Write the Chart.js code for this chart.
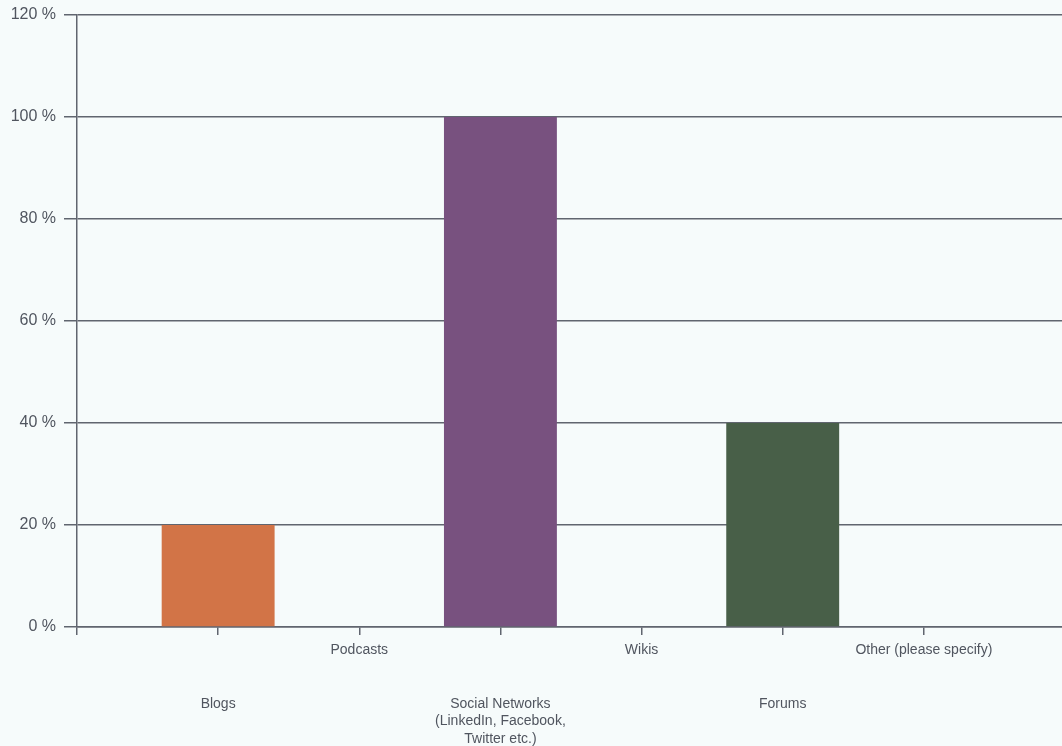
<!DOCTYPE html>
<html>
<head>
<meta charset="utf-8">
<script src="https://cdn.jsdelivr.net/npm/chart.js@4.4.0/dist/chart.umd.min.js"></script>
<style>
html, body { margin: 0; padding: 0; overflow: hidden; background: #f6fbfb; }
</style>
</head>
<body>
<canvas id="myChart" width="1071" height="746"></canvas>
<script>
// survey answers (share of respondents)
const categories = [
    'Blogs',
    'Podcasts',
    ['Social Networks', '(LinkedIn, Facebook,', 'Twitter etc.)'],
    'Wikis',
    'Forums',
    'Other (please specify)'
];
const shares = [20, 0, 100, 0, 40, 0];
const barColors = ['#d27447', '#8c8c8c', '#78517f', '#8c8c8c', '#485f48', '#8c8c8c'];
const yTicks = [0, 20, 40, 60, 80, 100, 120];

const lineColor = '#60656f';
const textColor = '#50555f';

// one empty slot on each side so the first bar sits a full step from the y axis
const labels = [''].concat(categories, ['']);
const values = [null].concat(shares, [null]);
const colors = [null].concat(barColors, [null]);

function tickLabel(index) {
    let lbl = labels[index];
    if (lbl === '') return '';
    let lines = Array.isArray(lbl) ? lbl : [lbl];
    // Blogs, Social Networks and Forums are dropped to a second row
    if (index % 2 === 1) {
        return ['', '', ''].concat(lines);
    }
    return lines;
}

let ctx = document.getElementById('myChart').getContext('2d');
new Chart(ctx, {
    type: 'bar',
    data: {
        labels: labels,
        datasets: [{
            data: values,
            backgroundColor: colors,
            borderWidth: 0,
            barPercentage: 0.8,
            categoryPercentage: 1
        }]
    },
    options: {
        responsive: false,
        animation: false,
        layout: { padding: { top: 15, left: 0, right: 0, bottom: 0 } },
        plugins: {
            legend: { display: false },
            tooltip: { enabled: false }
        },
        scales: {
            x: {
                offset: false,
                grid: { offset: false, drawOnChartArea: false, tickLength: 8, color: lineColor, lineWidth: 1.5 },
                border: { color: lineColor, width: 1.5 },
                ticks: {
                    autoSkip: false,
                    maxRotation: 0,
                    padding: 6,
                    color: textColor,
                    font: { family: 'Liberation Sans', size: 14, lineHeight: 1.28 },
                    callback: function(value, index) {
                        return tickLabel(index);
                    }
                },
                afterFit: function(scale) { scale.height = 119; }
            },
            y: {
                min: yTicks[0],
                max: yTicks[yTicks.length - 1],
                grid: { tickLength: 13, color: lineColor, lineWidth: 1.5 },
                border: { color: lineColor, width: 1.5 },
                ticks: {
                    stepSize: yTicks[1] - yTicks[0],
                    padding: 8,
                    color: textColor,
                    font: { family: 'Liberation Sans', size: 16 },
                    callback: function(value) { return value + ' %'; }
                },
                afterFit: function(scale) {
                    scale.width = 77;
                    scale.paddingTop = 0;
                }
            }
        }
    }
});
</script>
</body>
</html>
